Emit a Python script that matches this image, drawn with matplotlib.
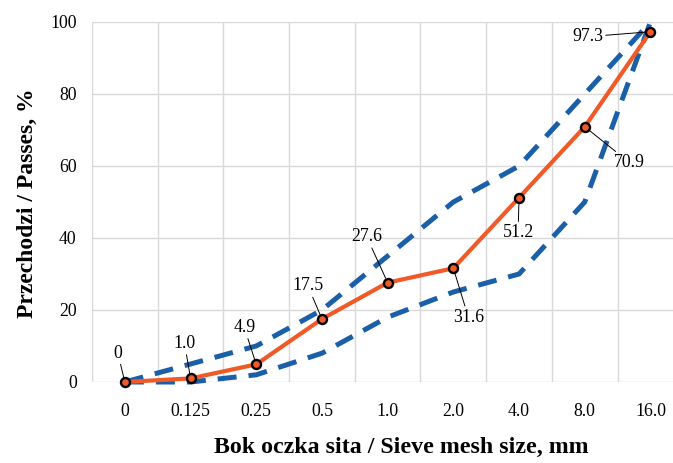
import matplotlib
matplotlib.use('Agg')
import matplotlib.pyplot as plt
import numpy as np

'''
Grading curve: sieve passing vs. envelope limits
'''

sieves = ['0', '0.125', '0.25', '0.5', '1.0', '2.0', '4.0', '8.0', '16.0']
passing = [0, 1.0, 4.9, 17.5, 27.6, 31.6, 51.2, 70.9, 97.3]
passing_labels = ['0', '1.0', '4.9', '17.5', '27.6', '31.6', '51.2', '70.9', '97.3']
upper_limit = [0, 5, 10, 20, 35, 50, 60, 80, 100]
lower_limit = [0, 0, 2, 8, 18, 25, 30, 50, 100]

# label offsets in pixels from each point (dx, dy)
label_offsets = [(-7, 29), (-6, 35), (-12, 37), (-14, 33), (-21, 46),
                 (15, -49), (-1, -35), (45, -36), (-63, -5)]

plt.rcParams['font.family'] = ['Liberation Serif', 'DejaVu Serif']

orange = '#F05A28'
blue = '#1A5FA8'
grid_col = '#D9D9D9'

fig = plt.figure(figsize=(6.73, 4.63), dpi=100)
# plot area runs past the right edge like in the source picture
ax = fig.add_axes([92 / 673, 1 - 382 / 463, 591.3 / 673, 360 / 463])

x = np.arange(len(sieves))

ax.plot(x, upper_limit, color=blue, lw=3.6, linestyle=(0, (3.8, 2.4)),
        dash_capstyle='butt', clip_on=False, zorder=3)
ax.plot(x, lower_limit, color=blue, lw=3.6, linestyle=(0, (3.8, 2.4)),
        dash_capstyle='butt', clip_on=False, zorder=3)
ax.plot(x, passing, color=orange, lw=3.0, marker='o', markersize=6.5,
        markerfacecolor=orange, markeredgecolor='black', markeredgewidth=1.7,
        clip_on=False, zorder=4)

for i, (v, lab) in enumerate(zip(passing, passing_labels)):
    dx, dy = label_offsets[i]
    ax.annotate(lab, xy=(x[i], v), xytext=(dx, dy), textcoords='offset pixels',
                ha='center', va='center', fontsize=12.8, color='black',
                arrowprops=dict(arrowstyle='-', color='black', lw=0.7,
                                shrinkA=0, shrinkB=3.5),
                zorder=5, annotation_clip=False)

ax.set_xlim(-0.5, len(sieves) - 0.5)
ax.set_ylim(0, 100)
ax.set_xticks(x)
ax.set_xticklabels(sieves)
ax.set_yticks(np.arange(0, 101, 20))
ax.set_xticks(np.arange(-0.5, len(sieves), 1.0), minor=True)

ax.tick_params(axis='both', which='both', length=0, labelsize=12.8)
ax.tick_params(axis='x', pad=15)
ax.tick_params(axis='y', pad=11)

ax.grid(axis='y', which='major', color=grid_col, lw=1.0)
ax.grid(axis='x', which='minor', color=grid_col, lw=1.0)
ax.grid(axis='x', which='major', visible=False)
ax.set_axisbelow(True)
for s in ax.spines.values():
    s.set_visible(False)

fig.text(401 / 673, 1 - 447 / 463, 'Bok oczka sita / Sieve mesh size, mm',
         ha='center', va='center', fontsize=17.2, fontweight='bold')
fig.text(27 / 673, 1 - 203 / 463, 'Przechodzi / Passes, %', rotation=90,
         ha='center', va='center', fontsize=17, fontweight='bold')

fig.savefig('out.png', dpi=100)
